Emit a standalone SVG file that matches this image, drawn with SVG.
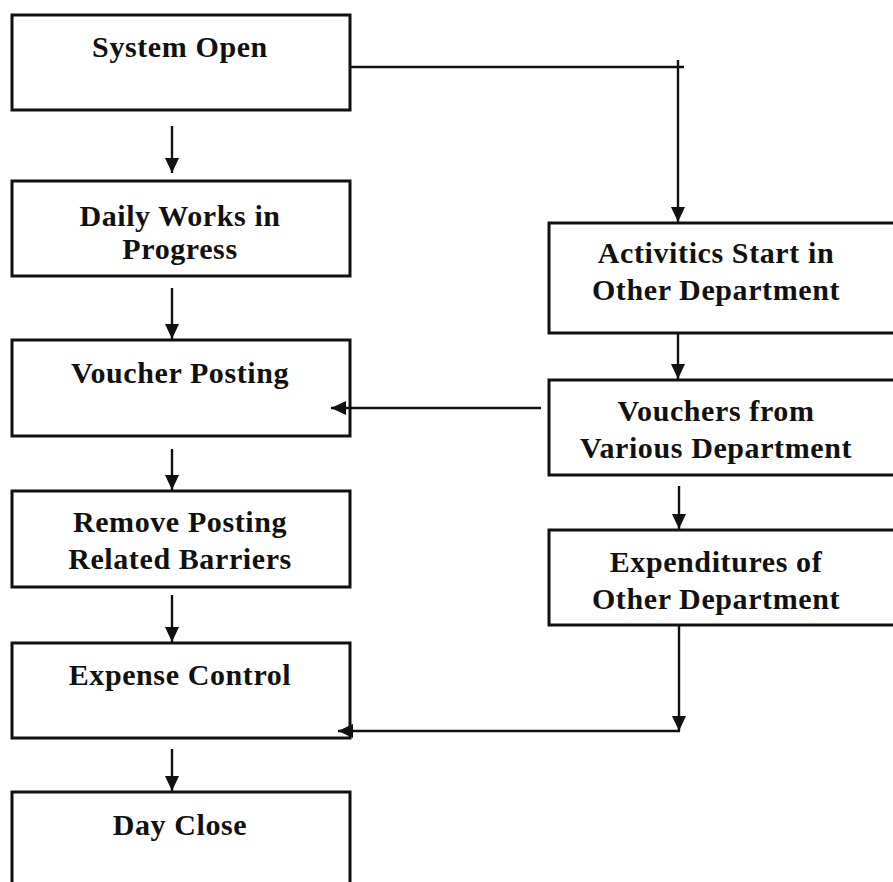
<svg xmlns="http://www.w3.org/2000/svg" width="893" height="882" viewBox="0 0 893 882">
<style>
.box{fill:#fff;stroke:#111;stroke-width:3}
.t{font-family:"Liberation Serif","Times New Roman",serif;font-weight:bold;font-size:30px;letter-spacing:0.6px;fill:#111;text-anchor:middle}
.c{fill:none;stroke:#111;stroke-width:2.4}
</style>
<defs>
<marker id="ah" viewBox="0 0 15 14" refX="15" refY="7" markerWidth="15" markerHeight="14" markerUnits="userSpaceOnUse" orient="auto">
<path d="M0,0 L15,7 L0,14 Z" fill="#111"/>
</marker>
</defs>
<rect width="893" height="882" fill="#fff"/>
<g id="n1"><rect class="box" x="12" y="15" width="338" height="95"/><text class="t" x="180" y="57">System Open</text></g>
<g id="n2"><rect class="box" x="12" y="181" width="338" height="95"/><text class="t" x="180" y="226">Daily Works in</text><text class="t" x="180" y="259">Progress</text></g>
<g id="n3"><rect class="box" x="12" y="340" width="338" height="96"/><text class="t" x="180" y="383">Voucher Posting</text></g>
<g id="n4"><rect class="box" x="12" y="491" width="338" height="96"/><text class="t" x="180" y="532">Remove Posting</text><text class="t" x="180" y="569">Related Barriers</text></g>
<g id="n5"><rect class="box" x="12" y="643" width="338" height="95"/><text class="t" x="180" y="685">Expense Control</text></g>
<g id="n6"><rect class="box" x="12" y="792" width="338" height="100"/><text class="t" x="180" y="835">Day Close</text></g>
<g id="n7"><rect class="box" x="549" y="223" width="346" height="110"/><text class="t" x="716" y="263">Activitics Start in</text><text class="t" x="716" y="300">Other Department</text></g>
<g id="n8"><rect class="box" x="549" y="380" width="346" height="95"/><text class="t" x="716" y="421">Vouchers from</text><text class="t" x="716" y="458">Various Department</text></g>
<g id="n9"><rect class="box" x="549" y="530" width="346" height="95"/><text class="t" x="716" y="572">Expenditures of</text><text class="t" x="716" y="609">Other Department</text></g>
<g id="connectors">
<line class="c" x1="172" y1="126" x2="172" y2="173" marker-end="url(#ah)"/>
<line class="c" x1="172" y1="288" x2="172" y2="339" marker-end="url(#ah)"/>
<line class="c" x1="172" y1="449" x2="172" y2="490" marker-end="url(#ah)"/>
<line class="c" x1="172" y1="595" x2="172" y2="642" marker-end="url(#ah)"/>
<line class="c" x1="172" y1="749" x2="172" y2="791" marker-end="url(#ah)"/>
<polyline class="c" points="350,67 684,67"/>
<line class="c" x1="678" y1="60" x2="678" y2="222" marker-end="url(#ah)"/>
<line class="c" x1="678" y1="333" x2="678" y2="379" marker-end="url(#ah)"/>
<line class="c" x1="541" y1="408" x2="331" y2="408" marker-end="url(#ah)"/>
<line class="c" x1="679" y1="486" x2="679" y2="529" marker-end="url(#ah)"/>
<line class="c" x1="679" y1="625" x2="679" y2="731" marker-end="url(#ah)"/>
<line class="c" x1="680" y1="731" x2="338" y2="731" marker-end="url(#ah)"/>
</g>
</svg>
